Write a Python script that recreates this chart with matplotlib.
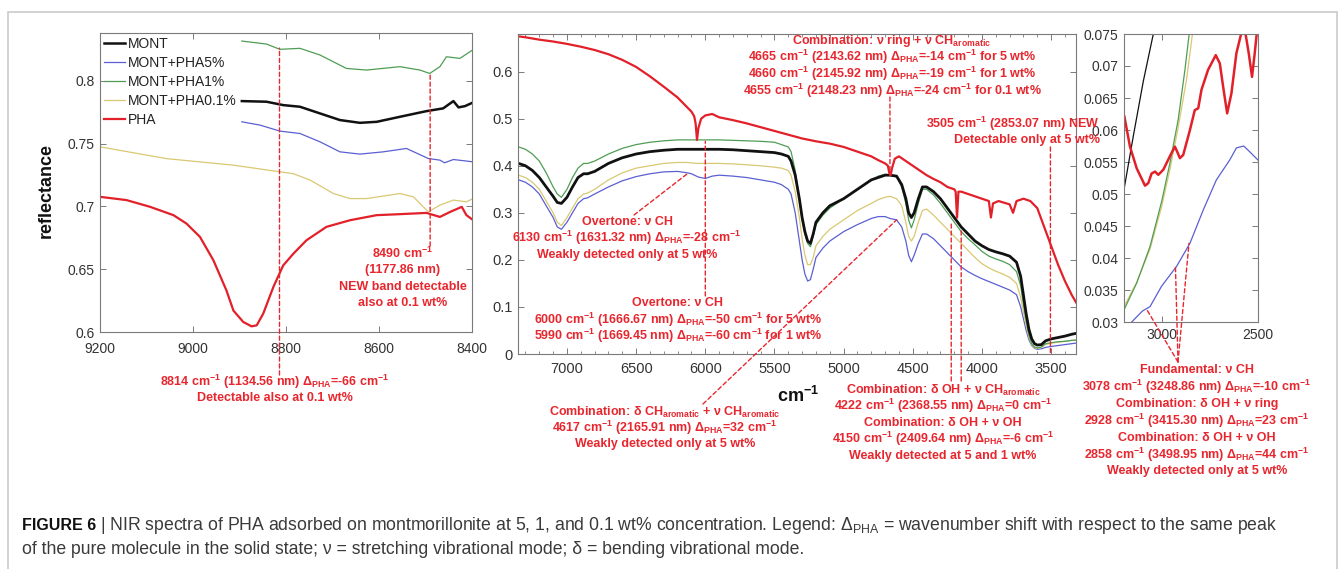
import numpy as np
import matplotlib
matplotlib.use('Agg')
import matplotlib.pyplot as plt
from matplotlib import font_manager
from matplotlib.patches import Rectangle
from matplotlib.ticker import MultipleLocator

plt.rcParams['font.family'] = ['Liberation Sans', 'DejaVu Sans']
plt.rcParams['mathtext.default'] = 'regular'

# ---------------- data ----------------
legend_labels = ['MONT', 'MONT+PHA5%', 'MONT+PHA1%', 'MONT+PHA0.1%', 'PHA']

# Left panel (9200-8400 cm-1)
mont_left_wn = [8895, 8842, 8806, 8770, 8727, 8684, 8641, 8605, 8555, 8498, 8462, 8440, 8429, 8415, 8399]
mont_left = [0.7838, 0.7833, 0.7806, 0.7793, 0.774, 0.7687, 0.7665, 0.7673, 0.7713, 0.7758, 0.778, 0.7838, 0.7788, 0.7798, 0.7825]
pha5_left_wn = [8895, 8856, 8813, 8770, 8727, 8684, 8641, 8591, 8541, 8494, 8469, 8459, 8440, 8399]
pha5_left = [0.7673, 0.7647, 0.7599, 0.758, 0.7514, 0.7434, 0.7416, 0.7434, 0.7461, 0.7381, 0.7368, 0.7347, 0.7373, 0.7355]
pha1_left_wn = [8895, 8842, 8813, 8770, 8727, 8670, 8627, 8555, 8512, 8491, 8469, 8455, 8426, 8399]
pha1_left = [0.8316, 0.8292, 0.825, 0.8258, 0.8205, 0.8098, 0.8085, 0.8112, 0.8085, 0.8058, 0.8112, 0.8191, 0.8178, 0.8244]
pha01_left_wn = [9200, 9057, 8913, 8813, 8784, 8748, 8698, 8662, 8627, 8555, 8526, 8494, 8469, 8440, 8412, 8399]
pha01_left = [0.7474, 0.738, 0.7328, 0.7275, 0.726, 0.7209, 0.7102, 0.7062, 0.7062, 0.7102, 0.7076, 0.6956, 0.701, 0.705, 0.7036, 0.706]
pha_left_wn = [9200, 9143, 9092, 9042, 9014, 8985, 8956, 8928, 8913, 8892, 8874, 8863, 8849, 8827, 8806, 8784,
               8756, 8713, 8662, 8605, 8555, 8498, 8469, 8447, 8422, 8412, 8399]
pha_left = [0.7076, 0.705, 0.6996, 0.693, 0.6863, 0.6757, 0.657, 0.633, 0.617, 0.608, 0.6045, 0.6053, 0.6146, 0.636,
            0.653, 0.6624, 0.673, 0.6837, 0.689, 0.693, 0.6938, 0.6948, 0.6916, 0.6956, 0.6996, 0.693, 0.6895]

# Middle panel (7350-3300 cm-1)
mid_wn = [7350, 7300, 7250, 7200, 7150, 7100, 7070, 7040, 7000, 6960, 6920, 6880, 6850, 6800, 6700, 6600, 6500,
          6400, 6300, 6200, 6130, 6100, 6050, 6000, 5950, 5900, 5800, 5700, 5600, 5500, 5450, 5400, 5380, 5350,
          5320, 5300, 5280, 5260, 5240, 5220, 5200, 5150, 5100, 5000, 4900, 4800, 4750, 4700, 4665, 4617, 4580,
          4550, 4530, 4510, 4490, 4460, 4430, 4400, 4350, 4300, 4250, 4200, 4150, 4100, 4050, 4000, 3950, 3900,
          3850, 3800, 3750, 3720, 3700, 3680, 3660, 3640, 3620, 3600, 3570, 3540, 3500, 3450, 3400, 3350, 3300]
mont_mid = [0.405, 0.40, 0.39, 0.375, 0.355, 0.335, 0.322, 0.32, 0.333, 0.355, 0.375, 0.383, 0.383, 0.388, 0.405,
            0.417, 0.425, 0.43, 0.433, 0.435, 0.435, 0.435, 0.435, 0.435, 0.435, 0.435, 0.434, 0.432, 0.43, 0.428,
            0.425, 0.42, 0.41, 0.38, 0.33, 0.29, 0.26, 0.24, 0.235, 0.255, 0.28, 0.30, 0.315, 0.33, 0.35, 0.37,
            0.375, 0.38, 0.38, 0.378, 0.36, 0.33, 0.30, 0.29, 0.30, 0.33, 0.355, 0.355, 0.345, 0.33, 0.31, 0.29,
            0.27, 0.255, 0.24, 0.23, 0.222, 0.217, 0.213, 0.208, 0.195, 0.165, 0.125, 0.085, 0.052, 0.032, 0.022,
            0.019, 0.02, 0.028, 0.032, 0.035, 0.038, 0.042, 0.045]
pha5_mid = [0.37, 0.365, 0.355, 0.34, 0.315, 0.29, 0.27, 0.265, 0.28, 0.30, 0.32, 0.33, 0.332, 0.34, 0.355,
            0.368, 0.377, 0.383, 0.387, 0.388, 0.385, 0.383, 0.376, 0.373, 0.378, 0.38, 0.378, 0.375, 0.37, 0.365,
            0.36, 0.35, 0.34, 0.30, 0.24, 0.20, 0.17, 0.155, 0.158, 0.18, 0.205, 0.225, 0.24, 0.26, 0.275, 0.288,
            0.292, 0.292, 0.288, 0.285, 0.27, 0.24, 0.21, 0.196, 0.21, 0.235, 0.255, 0.255, 0.245, 0.23, 0.215,
            0.20, 0.185, 0.175, 0.167, 0.16, 0.154, 0.148, 0.142, 0.136, 0.126, 0.10, 0.075, 0.05, 0.03, 0.018,
            0.012, 0.01, 0.011, 0.014, 0.016, 0.018, 0.02, 0.022, 0.024]
pha1_mid = [0.44, 0.435, 0.425, 0.41, 0.385, 0.355, 0.34, 0.333, 0.35, 0.375, 0.395, 0.405, 0.405, 0.41, 0.425,
            0.437, 0.445, 0.45, 0.453, 0.455, 0.455, 0.455, 0.455, 0.455, 0.455, 0.455, 0.454, 0.453, 0.452, 0.45,
            0.445, 0.44, 0.43, 0.39, 0.33, 0.285, 0.255, 0.235, 0.228, 0.25, 0.275, 0.295, 0.31, 0.33, 0.35, 0.37,
            0.378, 0.382, 0.38, 0.376, 0.355, 0.32, 0.285, 0.268, 0.285, 0.32, 0.35, 0.35, 0.338, 0.32, 0.30, 0.28,
            0.26, 0.245, 0.232, 0.218, 0.208, 0.202, 0.197, 0.19, 0.175, 0.145, 0.105, 0.07, 0.04, 0.022, 0.015,
            0.013, 0.015, 0.022, 0.024, 0.026, 0.027, 0.029, 0.03]
pha01_mid = [0.38, 0.375, 0.365, 0.35, 0.325, 0.30, 0.28, 0.273, 0.29, 0.31, 0.33, 0.34, 0.342, 0.35, 0.37, 0.385,
             0.395, 0.40, 0.405, 0.407, 0.407, 0.406, 0.405, 0.405, 0.405, 0.405, 0.404, 0.402, 0.40, 0.397, 0.395,
             0.39, 0.38, 0.345, 0.29, 0.245, 0.21, 0.19, 0.19, 0.205, 0.23, 0.25, 0.265, 0.285, 0.305, 0.32, 0.328,
             0.333, 0.335, 0.33, 0.315, 0.28, 0.25, 0.24, 0.25, 0.28, 0.305, 0.308, 0.295, 0.28, 0.265, 0.25, 0.235,
             0.22, 0.205, 0.192, 0.183, 0.176, 0.17, 0.163, 0.15, 0.12, 0.09, 0.06, 0.035, 0.02, 0.013, 0.012,
             0.014, 0.02, 0.023, 0.025, 0.027, 0.029, 0.03]
pha_mid_wn = [7350, 7300, 7200, 7100, 7000, 6900, 6800, 6700, 6600, 6500, 6400, 6300, 6200, 6150, 6100, 6080, 6070,
              6060, 6050, 6030, 6000, 5950, 5900, 5800, 5700, 5600, 5500, 5400, 5300, 5200, 5100, 5000, 4900, 4800,
              4750, 4700, 4680, 4670, 4660, 4650, 4630, 4600, 4550, 4500, 4450, 4400, 4350, 4300, 4250, 4200, 4190,
              4180, 4170, 4150, 4100, 4050, 4000, 3950, 3935, 3920, 3880, 3800, 3775, 3750, 3700, 3650, 3600, 3550,
              3500, 3450, 3400, 3350, 3300]
pha_mid = [0.675, 0.673, 0.668, 0.664, 0.659, 0.653, 0.646, 0.637, 0.625, 0.61, 0.59, 0.568, 0.545, 0.53, 0.515,
           0.505, 0.49, 0.455, 0.48, 0.50, 0.507, 0.51, 0.503, 0.497, 0.49, 0.482, 0.474, 0.466, 0.458, 0.452, 0.447,
           0.44, 0.43, 0.42, 0.412, 0.405, 0.40, 0.385, 0.38, 0.395, 0.415, 0.42, 0.41, 0.40, 0.39, 0.38, 0.372,
           0.365, 0.355, 0.35, 0.345, 0.29, 0.345, 0.345, 0.34, 0.335, 0.33, 0.325, 0.29, 0.32, 0.325, 0.318, 0.30,
           0.325, 0.33, 0.325, 0.31, 0.27, 0.23, 0.19, 0.155, 0.125, 0.10]

# Right panel (3200-2500 cm-1)
mont_right_wn = [3195, 3147, 3095, 3043, 3000]
mont_right = [0.0507, 0.059, 0.0676, 0.075, 0.082]
pha5_right_wn = [3155, 3100, 3060, 3000, 2922, 2853, 2784, 2716, 2647, 2612, 2574, 2543, 2500]
pha5_right = [0.030, 0.0317, 0.0324, 0.0356, 0.0387, 0.0423, 0.0475, 0.0522, 0.0553, 0.0572, 0.0575, 0.0566, 0.0553]
pha1_right_wn = [3195, 3129, 3060, 3000, 2957, 2914, 2879, 2857, 2840]
pha1_right = [0.0319, 0.0361, 0.0418, 0.0488, 0.0548, 0.0616, 0.0694, 0.075, 0.079]
pha01_right_wn = [3195, 3129, 3060, 3000, 2957, 2914, 2870, 2840, 2825]
pha01_right = [0.0324, 0.0362, 0.0414, 0.048, 0.0538, 0.0604, 0.068, 0.075, 0.078]
pha_right_wn = [3193, 3164, 3129, 3086, 3069, 3052, 3034, 3017, 2991, 2957, 2931, 2919, 2905, 2888, 2853, 2828,
                2810, 2793, 2759, 2719, 2698, 2681, 2660, 2638, 2612, 2586, 2569, 2548, 2531, 2517, 2500]
pha_right = [0.0621, 0.0574, 0.054, 0.0513, 0.0517, 0.0532, 0.0535, 0.053, 0.0538, 0.0559, 0.0574, 0.0566, 0.0556,
             0.0561, 0.060, 0.0631, 0.0634, 0.0663, 0.0694, 0.0717, 0.0704, 0.0668, 0.0626, 0.0657, 0.072, 0.0752,
             0.0758, 0.072, 0.0683, 0.072, 0.077]

left_xticks = [9200, 9000, 8800, 8600, 8400]
left_yticks = [0.6, 0.65, 0.7, 0.75, 0.8]
mid_xticks = [7000, 6500, 6000, 5500, 5000, 4500, 4000, 3500]
mid_yticks = [0, 0.1, 0.2, 0.3, 0.4, 0.5, 0.6]
right_xticks = [3000, 2500]
right_yticks = [0.03, 0.035, 0.04, 0.045, 0.05, 0.055, 0.06, 0.065, 0.07, 0.075]

# ---------------- styling ----------------
W, H = 1344, 569
fig = plt.figure(figsize=(W / 100, H / 100), dpi=100)

def fx(x):
    return x / W

def fy(y):
    return 1 - y / H

def fp(y):
    return H - y

C_MONT = '#111111'
C_5 = '#5a5fd2'
C_1 = '#4f9d55'
C_01 = '#d9c873'
C_PHA = '#e2202a'
ANN = '#e8262e'
SPINE = '#7a7a7a'

def style(ax):
    for s in ax.spines.values():
        s.set_color(SPINE)
        s.set_linewidth(0.8)
    ax.tick_params(direction='in', top=True, right=True, length=4, width=0.7, color=SPINE,
                   labelsize=10, labelcolor='#333333', pad=4)
    ax.tick_params(which='minor', direction='in', top=True, right=True, length=2, width=0.6, color=SPINE)

def add_axes(l, r, t, b):
    return fig.add_axes([fx(l), fy(b), fx(r) - fx(l), (b - t) / H])

# outer frame
fig.patches.append(Rectangle((fx(8), fy(600)), fx(1337) - fx(8), (600 - 12) / H, transform=fig.transFigure,
                             fill=False, edgecolor='#cfcfcf', linewidth=1.3))

# ---- left panel
ax1 = add_axes(100, 472, 33, 332)
style(ax1)
ax1.plot(mont_left_wn, mont_left, color=C_MONT, lw=1.8, label=legend_labels[0])
ax1.plot(pha5_left_wn, pha5_left, color=C_5, lw=0.9, label=legend_labels[1])
ax1.plot(pha1_left_wn, pha1_left, color=C_1, lw=0.9, label=legend_labels[2])
ax1.plot(pha01_left_wn, pha01_left, color=C_01, lw=0.9, label=legend_labels[3])
ax1.plot(pha_left_wn, pha_left, color=C_PHA, lw=1.6, label=legend_labels[4])
ax1.set_xlim(9200, 8400)
ax1.set_ylim(0.6, 0.838)
ax1.set_xticks(left_xticks)
ax1.set_xticklabels([str(v) for v in left_xticks])
ax1.set_yticks(left_yticks)
ax1.set_yticklabels(['%g' % v for v in left_yticks])
ax1.tick_params(axis='x', pad=7)
ax1.set_ylabel('reflectance', fontsize=13, fontweight='bold', color='#111111')
ax1.yaxis.set_label_coords((55 - 100) / 372, 1 - (190 - 33) / 299)
leg = ax1.legend(loc='upper left', bbox_to_anchor=(fx(101), fy(34)), bbox_transform=fig.transFigure,
                 frameon=False, fontsize=10, handlelength=1.5, handletextpad=0.2, labelspacing=0.37,
                 borderpad=0.2, borderaxespad=0)
for t in leg.get_texts():
    t.set_color('#222222')

# ---- middle panel
ax2 = add_axes(518, 1076, 34, 354)
style(ax2)
ax2.plot(mid_wn, pha5_mid, color=C_5, lw=0.9)
ax2.plot(mid_wn, pha01_mid, color=C_01, lw=0.9)
ax2.plot(mid_wn, pha1_mid, color=C_1, lw=0.9)
ax2.plot(mid_wn, mont_mid, color=C_MONT, lw=2.0)
ax2.plot(pha_mid_wn, pha_mid, color=C_PHA, lw=1.6)
ax2.set_xlim(7354, 3320)
ax2.set_ylim(0, 0.68)
ax2.set_xticks(mid_xticks)
ax2.set_xticklabels([str(v) for v in mid_xticks])
ax2.xaxis.set_minor_locator(MultipleLocator(100))
ax2.set_yticks(mid_yticks)
ax2.set_yticklabels(['%g' % v for v in mid_yticks])
ax2.tick_params(labelsize=10.5)
ax2.tick_params(axis='x', pad=6)

# ---- right panel
ax3 = add_axes(1124, 1258, 34, 322)
style(ax3)
ax3.plot(mont_right_wn, mont_right, color=C_MONT, lw=0.9)
ax3.plot(pha01_right_wn, pha01_right, color=C_01, lw=0.9)
ax3.plot(pha1_right_wn, pha1_right, color=C_1, lw=0.9)
ax3.plot(pha5_right_wn, pha5_right, color=C_5, lw=0.9)
ax3.plot(pha_right_wn, pha_right, color=C_PHA, lw=1.8)
ax3.set_xlim(3195, 2500)
ax3.set_ylim(0.03, 0.075)
ax3.set_xticks(right_xticks)
ax3.set_xticklabels([str(v) for v in right_xticks])
ax3.set_yticks(right_yticks)
ax3.set_yticklabels(['%g' % v for v in right_yticks])

# ---------------- annotations ----------------
DASH = dict(arrowstyle='-', linestyle=(0, (3, 2)), color=ANN, lw=1.0, shrinkA=0, shrinkB=0)

def leader(ax, wn, val, tx, ty, tx_data=False):
    tc = ('data', 'figure pixels') if tx_data else 'figure pixels'
    xt = wn if tx_data else tx
    ax.annotate('', xy=(wn, val), xycoords='data', xytext=(xt, fp(ty)), textcoords=tc,
                arrowprops=DASH, annotation_clip=False)

leader(ax1, 8814, 0.826, None, 375, tx_data=True)
leader(ax1, 8490, 0.8045, None, 246, tx_data=True)
leader(ax2, 6130, 0.383, 634, 215)
leader(ax2, 6000, 0.452, None, 296, tx_data=True)
leader(ax2, 4617, 0.285, 703, 404)
leader(ax2, 4665, 0.38, None, 97, tx_data=True)
leader(ax2, 4222, 0.28, None, 381, tx_data=True)
leader(ax2, 4150, 0.262, None, 381, tx_data=True)
leader(ax2, 3505, 0.0, None, 147, tx_data=True)
leader(ax3, 3078, 0.032, 1178, 362)
leader(ax3, 2928, 0.0385, 1178, 362)
leader(ax3, 2858, 0.0423, 1178, 362)

def block(lines, x, ys, ha='center', size=9):
    for line, y in zip(lines, ys):
        fig.text(fx(x), fy(y), line, ha=ha, va='center', color=ANN, fontsize=size, fontweight='bold')

block(['8490 cm$^{-1}$', '(1177.86 nm)', 'NEW band detectable', 'also at 0.1 wt%'], 403, [253, 270, 287, 303])
block(['8814 cm$^{-1}$ (1134.56 nm) Δ$_{PHA}$=-66 cm$^{-1}$', 'Detectable also at 0.1 wt%'], 275, [382, 398])
block(['Combination: ν ring + ν CH$_{aromatic}$',
       '4665 cm$^{-1}$ (2143.62 nm) Δ$_{PHA}$=-14 cm$^{-1}$ for 5 wt%',
       '4660 cm$^{-1}$ (2145.92 nm) Δ$_{PHA}$=-19 cm$^{-1}$ for 1 wt%',
       '4655 cm$^{-1}$ (2148.23 nm) Δ$_{PHA}$=-24 cm$^{-1}$ for 0.1 wt%'], 892, [41, 57, 74, 91])
block(['3505 cm$^{-1}$ (2853.07 nm) NEW', 'Detectable only at 5 wt%'], 1100, [124, 140], ha='right')
block(['Overtone: ν CH', '6130 cm$^{-1}$ (1631.32 nm) Δ$_{PHA}$=-28 cm$^{-1}$', 'Weakly detected only at 5 wt%'],
      627, [222, 238, 255])
block(['Overtone: ν CH', '6000 cm$^{-1}$ (1666.67 nm) Δ$_{PHA}$=-50 cm$^{-1}$ for 5 wt%',
       '5990 cm$^{-1}$ (1669.45 nm) Δ$_{PHA}$=-60 cm$^{-1}$ for 1 wt%'], 678, [303, 320, 336])
block(['Combination: δ CH$_{aromatic}$ + ν CH$_{aromatic}$', '4617 cm$^{-1}$ (2165.91 nm) Δ$_{PHA}$=32 cm$^{-1}$',
       'Weakly detected only at 5 wt%'], 665, [412, 428, 444])
block(['Combination: δ OH + ν CH$_{aromatic}$', '4222 cm$^{-1}$ (2368.55 nm) Δ$_{PHA}$=0 cm$^{-1}$',
       'Combination: δ OH + ν OH', '4150 cm$^{-1}$ (2409.64 nm) Δ$_{PHA}$=-6 cm$^{-1}$',
       'Weakly detected at 5 and 1 wt%'], 943, [390, 406, 423, 439, 456])
block(['Fundamental: ν CH', '3078 cm$^{-1}$ (3248.86 nm) Δ$_{PHA}$=-10 cm$^{-1}$', 'Combination: δ OH + ν ring',
       '2928 cm$^{-1}$ (3415.30 nm) Δ$_{PHA}$=23 cm$^{-1}$', 'Combination: δ OH + ν OH',
       '2858 cm$^{-1}$ (3498.95 nm) Δ$_{PHA}$=44 cm$^{-1}$', 'Weakly detected only at 5 wt%'],
      1197, [370, 387, 404, 421, 438, 455, 471])

fig.text(fx(798), fy(396), 'cm$^{-1}$', ha='center', va='center', fontsize=13, fontweight='bold', color='#111111')

# ---------------- caption ----------------
names = {f.name for f in font_manager.fontManager.ttflist}
cap_family = ['Liberation Sans Narrow', 'Liberation Sans', 'DejaVu Sans'] if 'Liberation Sans Narrow' in names \
    else ['Liberation Sans', 'DejaVu Sans']
cap1 = ('| NIR spectra of PHA adsorbed on montmorillonite at 5, 1, and 0.1 wt% concentration. Legend: '
        'Δ$_{PHA}$ = wavenumber shift with respect to the same peak')
cap2 = 'of the pure molecule in the solid state; ν = stretching vibrational mode; δ = bending vibrational mode.'
fs = 11.5
tb = fig.text(fx(22), fy(526), 'FIGURE 6', fontweight='bold', fontsize=fs, family=cap_family, va='center',
              color='#111111')
renderer = fig.canvas.get_renderer()
bb = tb.get_window_extent(renderer)
start = bb.x1 + 4
t1 = fig.text(start / W, fy(526), cap1, fontsize=fs, family=cap_family, va='center', color='#3a3a3a')
w1 = t1.get_window_extent(renderer).width
fs2 = fs * (1279 - start) / w1
t1.set_fontsize(fs2)
fig.text(fx(22), fy(549), cap2, fontsize=fs2, family=cap_family, va='center', color='#3a3a3a')

fig.savefig('out.png', dpi=100)
